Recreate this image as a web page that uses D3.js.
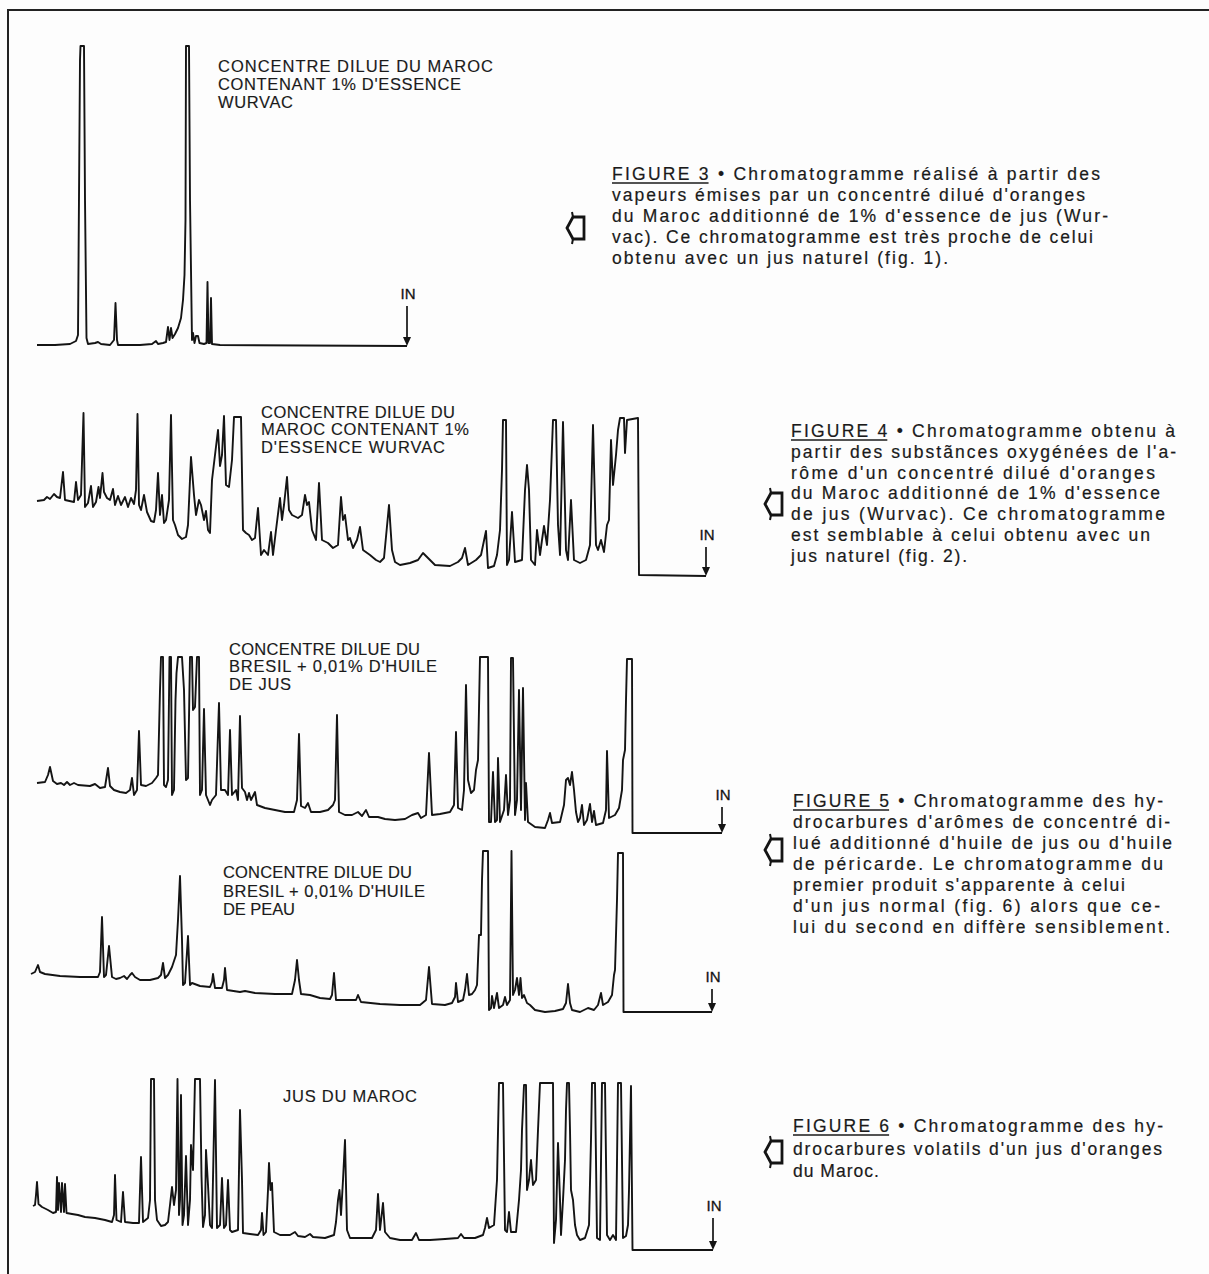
<!DOCTYPE html>
<html><head><meta charset="utf-8">
<script src="https://cdn.jsdelivr.net/npm/d3@7"></script>
<style>
body{margin:0;background:#fff}
svg{display:block}
</style>
</head><body>
<svg id="c" width="1209" height="1274"></svg>
<script>
// ---------- DATA (retention in chart units, detector response in chart units) ----------
const fig3Signal = [[0,1],[18,1],[33,2],[39,5],[41,11],[43,286],[43.5,300],[47,300],[48,146],[49.5,8],[51,2],[58,3],[61,4],[64,2],[73,1],[77,6],[78.5,43],[80,6],[81,1],[103,1],[115,2],[119,5],[121,2],[126,3],[129,4],[131,19],[132.5,6],[134,18],[135.5,8],[138,12],[141,18],[144,28],[146,46],[147.5,71],[148.5,126],[149,300],[152,300],[153,146],[155,6],[156,13],[157.5,3],[159,10],[161,10],[162.5,3],[167,2],[169.5,3],[170.5,64],[171.5,3],[173,3],[174,48],[175,2],[183,1],[370,0]];

const fig4Signal = [[0,75],[7,76],[10,79],[13,77],[17,82],[20,79],[23,78],[26,104],[28,76],[37,74],[39,94],[41,76],[44,81],[46.5,163],[48,69],[51,73],[54,90],[56,69],[59,74],[61.5,89],[63,78],[65.5,103],[67,84],[70,78],[73,76],[76,87],[78,71],[81,80],[84,71],[88,79],[91,69],[94,78],[97,72],[99,86],[100.5,162],[102,71],[104,66],[107,81],[110,64],[114,55],[117,54],[119,66],[121,103],[123,61],[125,81],[127,53],[129,56],[132,76],[134,161],[136,56],[138,51],[141,41],[145,37],[149,39],[151,51],[154,119],[157,81],[159,61],[162,76],[164,71],[167,56],[169,65],[171,46],[173,43],[175,96],[178,121],[181,146],[183,110],[185,121],[187,160],[189,91],[192,89],[195,116],[197,159],[204,159],[206,46],[209,43],[212,41],[215,36],[218,38],[221,68],[224,21],[227,26],[231,21],[234,44],[236,21],[239,46],[243,78],[245,56],[247,71],[250,99],[252,66],[255,61],[261,58],[265,61],[268,81],[270,71],[272,74],[275,46],[279,36],[282,93],[285,36],[291,33],[296,28],[301,31],[304,79],[306,56],[308,61],[311,36],[313,38],[316,28],[320,36],[323,49],[326,26],[333,21],[339,16],[343,14],[347,18],[352,71],[355,26],[358,14],[363,11],[373,13],[381,16],[386,23],[391,18],[398,11],[413,10],[421,14],[425,18],[428,28],[431,11],[439,16],[444,21],[449,45],[451,8],[457,10],[460,21],[463,46],[465,106],[466,156],[469,156],[470,11],[472,16],[475,64],[478,14],[485,16],[488,86],[490,111],[492,86],[494,16],[498,11],[500,46],[503,21],[505,36],[507,50],[510,31],[513,76],[516,156],[519,156],[521,51],[523,21],[526,154],[529,26],[531,16],[534,76],[537,16],[543,13],[549,16],[553,31],[556,151],[559,31],[561,26],[564,36],[567,24],[570,51],[572,56],[574,136],[576,91],[579,121],[581,146],[583,158],[587,158],[588,123],[590,156],[601,158],[602,1],[669,0]];

const fig5JusSignal = [[0,50],[8,51],[11,58],[13,66],[16,52],[20,49],[24,50],[27,48],[30,51],[33,48],[37,50],[41,48],[53,47],[58,49],[63,45],[68,46],[71,65],[73,47],[77,43],[83,41],[89,40],[93,43],[95,55],[97,38],[100,43],[102,102],[104,48],[109,47],[115,50],[119,55],[121,58],[123,143],[124,176],[126,176],[127,48],[129,46],[131,53],[132.5,176],[134,176],[135,38],[137,43],[138.5,133],[139.5,160],[141,176],[145,176],[147,143],[149,53],[151,55],[153,176],[155,176],[156,123],[158,126],[160,176],[162,176],[163,38],[165,43],[167,124],[169,38],[173,28],[175,33],[179,38],[182,130],[184,43],[188,43],[191,38],[193,103],[195,38],[199,43],[201,33],[203,117],[205,45],[208,41],[210,33],[212,40],[214,33],[218,41],[220,28],[228,25],[238,23],[248,21],[257,21],[260,33],[262,99],[264,27],[268,25],[271,30],[274,21],[283,21],[291,23],[296,28],[298,33],[300,118],[302,21],[308,18],[315,18],[321,21],[325,17],[329,23],[332,16],[341,16],[348,14],[358,13],[368,14],[375,18],[381,20],[384,15],[389,18],[392,80],[395,18],[403,19],[413,21],[417,28],[419,101],[421,25],[425,23],[427,43],[429,148],[431,53],[434,40],[437,43],[439,63],[441,73],[443,176],[451,176],[452,11],[454,11],[456,61],[458,11],[460,13],[461,75],[463,11],[467,23],[469,58],[471,18],[473,33],[474,175],[476,175],[478,18],[480,33],[482,143],[484,23],[486,145],[488,13],[489,50],[491,11],[498,6],[508,5],[511,13],[513,20],[515,10],[523,11],[527,28],[529,53],[531,55],[533,48],[535,61],[537,43],[539,21],[541,11],[543,15],[545,28],[547,8],[550,13],[553,29],[555,11],[557,22],[559,8],[566,10],[569,23],[570,82],[572,15],[578,18],[582,25],[583,31],[585,43],[586,73],[588,83],[589,133],[590,174],[595,174],[595.5,0],[685,0]];

const fig5PeauSignal = [[0,38],[4,40],[7,47],[9,40],[14,38],[29,36],[49,35],[67,35],[69,40],[71,95],[73,35],[75,37],[78,66],[81,35],[85,33],[89,34],[93,36],[96,33],[99,37],[101,39],[104,35],[109,32],[119,32],[127,34],[130,37],[132,49],[134,34],[137,37],[141,45],[145,57],[147,92],[149,136],[151,72],[152,27],[154,29],[157,76],[159,27],[161,29],[169,26],[179,25],[181,30],[182,38],[184,24],[191,24],[193,32],[194,44],[196,22],[209,20],[214,21],[224,19],[244,18],[261,18],[264,32],[266,52],[268,32],[270,18],[279,17],[289,14],[299,13],[301,17],[303,39],[305,12],[319,12],[325,12],[327,17],[330,10],[349,8],[369,7],[389,7],[395,12],[398,45],[401,8],[414,7],[421,9],[424,15],[425,29],[427,10],[432,12],[434,22],[436,38],[438,17],[441,18],[444,22],[446,27],[448,77],[450,77],[451,132],[452,161],[457,161],[458,2],[460,4],[461,16],[463,4],[466,19],[468,4],[472,7],[474,15],[476,7],[479,12],[480.5,161],[482,17],[484,22],[486,34],[488,17],[489.5,34],[491,14],[493,17],[496,9],[499,7],[504,2],[514,0],[524,1],[532,3],[535,9],[537,28],[539,9],[541,2],[549,0],[557,4],[563,2],[567,7],[570,19],[572,7],[577,10],[581,17],[583,37],[584,42],[585,77],[586,112],[587,159],[592,159],[592.5,0],[681,0]];

const fig6Signal = [[0,44],[2,45],[3,55],[4,68],[5.5,46],[9,43],[15,40],[20,37],[23,38],[24,73],[25,40],[26,67],[28,38],[29,67],[31,38],[32,66],[33.5,37],[39,36],[45,35],[52,33],[62,32],[72,30],[79,28],[81,35],[82,75],[83.5,30],[88,28],[90,58],[92,28],[100,27],[106,27],[108,93],[110,28],[115,32],[117,50],[118,171],[121,171],[122,50],[124,30],[128,24],[132,25],[135,28],[137,45],[139,63],[141,45],[143,60],[144.5,171],[146,35],[147,50],[148,155],[149.5,25],[151,35],[153,94],[155,25],[157,50],[158,105],[160,80],[162,171],[167,171],[168.5,74],[170,23],[172,35],[173,100],[175,65],[177,25],[179,22],[182,170],[184,22],[187,25],[189,72],[191,22],[193,25],[195,70],[197,20],[199,18],[205,20],[207,140],[209,70],[210,17],[217,16],[225,15],[228,20],[229,37],[230.5,15],[233,18],[235,60],[236,87],[237.5,60],[239,67],[241,18],[247,15],[257,15],[262,18],[265,14],[272,13],[277,16],[280,13],[292,12],[301,15],[303,28],[305,50],[306.5,60],[308,35],[310,70],[312,110],[314,20],[317,12],[327,12],[339,12],[343,20],[345,56],[347,20],[350,47],[352,18],[357,12],[367,10],[379,10],[383,17],[386,10],[397,10],[412,11],[425,12],[428,16],[431,12],[442,12],[450,15],[452,22],[454,32],[456,22],[461,25],[464,70],[466,167],[470,167],[472,20],[474,18],[476,38],[478,18],[483,18],[486,50],[488,80],[489,120],[491,165],[493,165],[494,60],[496,70],[498,90],[500,65],[503,70],[505,120],[507,167],[520,167],[521,7],[523,30],[525,107],[527,50],[528,15],[530,50],[532,90],[533,140],[534,167],[536,167],[537,120],[538,60],[540,50],[542,25],[544,15],[547,10],[552,12],[556,25],[558,110],[559,167],[562,167],[564,12],[567,10],[569,167],[572,167],[574,15],[577,10],[580,15],[583,10],[585,167],[588,167],[590,12],[593,14],[595,25],[596,60],[598,164],[599.5,0],[680,0]];

const traceLabels = [
  ["CONCENTRE DILUE DU MAROC","CONTENANT 1% D'ESSENCE","WURVAC"],
  ["CONCENTRE DILUE DU","MAROC CONTENANT 1%","D'ESSENCE WURVAC"],
  ["CONCENTRE DILUE DU","BRESIL + 0,01% D'HUILE","DE JUS"],
  ["CONCENTRE DILUE DU","BRESIL + 0,01% D'HUILE","DE PEAU"],
  ["JUS DU MAROC"]
];
const injectionLabel = "IN";

const captionFig3 = ["FIGURE 3 \u2022 Chromatogramme réalisé à partir des","vapeurs émises par un concentré dilué d'oranges","du Maroc additionné de 1% d'essence de jus (Wur-","vac). Ce chromatogramme est très proche de celui","obtenu avec un jus naturel  (fig. 1)."];
const captionFig4 = ["FIGURE 4 \u2022 Chromatogramme obtenu à","partir des substãnces oxygénées de l'a-","rôme d'un concentré dilué d'oranges","du Maroc additionné de 1% d'essence","de jus  (Wurvac).  Ce chromatogramme","est semblable à celui obtenu avec un","jus naturel  (fig. 2)."];
const captionFig5 = ["FIGURE 5 \u2022 Chromatogramme des hy-","drocarbures d'arômes de concentré di-","lué additionné d'huile de jus ou d'huile","de péricarde. Le chromatogramme du","premier produit s'apparente à celui","d'un jus normal  (fig. 6)  alors que ce-","lui du second en diffère sensiblement."];
const captionFig6 = ["FIGURE 6 \u2022 Chromatogramme des hy-","drocarbures volatils d'un jus d'oranges","du Maroc."];

// ---------- LAYOUT ----------
const svg = d3.select("#c");
svg.append("rect").attr("width",1209).attr("height",1274).attr("fill","#fdfdfd");
svg.append("path").attr("d","M8,1274 L8,10 L1209,10").attr("fill","none").attr("stroke","#222").attr("stroke-width",2);

const ink = "#141414";
const font = "Liberation Sans, Arial, sans-serif";
const panels = [
  {data:fig3Signal, x0:37, yRef:346, label:traceLabels[0], lx:218, ly:[72,90,108], lw:[275,243,75], inLen:40},
  {data:fig4Signal, x0:37, yRef:576, label:traceLabels[1], lx:261, ly:[418,435,453], lw:[194,208,184], inLen:29},
  {data:fig5JusSignal, x0:37, yRef:833, label:traceLabels[2], lx:229, ly:[655,672,690], lw:[191,208,62], inLen:26},
  {data:fig5PeauSignal, x0:31, yRef:1012, label:traceLabels[3], lx:223, ly:[878,897,915], lw:[189,202,72], inLen:23},
  {data:fig6Signal, x0:33, yRef:1250, label:traceLabels[4], lx:283, ly:[1102], lw:[134], inLen:32}
];

panels.forEach(p => {
  const tMax = d3.max(p.data, d=>d[0]);
  const sMax = d3.max(p.data, d=>d[1]);
  const x = d3.scaleLinear().domain([0,tMax]).range([p.x0, p.x0+tMax]);
  const y = d3.scaleLinear().domain([0,sMax]).range([p.yRef, p.yRef - sMax]);
  const line = d3.line().x(d=>x(d[0])).y(d=>y(d[1]));
  svg.append("path").datum(p.data).attr("d",line)
    .attr("fill","none").attr("stroke",ink).attr("stroke-width",1.9)
    .attr("stroke-linejoin","round");
  const xe = x(tMax), ye = y(0);
  svg.append("line").attr("x1",xe).attr("x2",xe).attr("y1",ye-p.inLen).attr("y2",ye-5)
    .attr("stroke",ink).attr("stroke-width",1.7);
  svg.append("path").attr("d",`M${xe-4},${ye-9} L${xe+4},${ye-9} L${xe},${ye} Z`).attr("fill",ink);
  svg.append("text").attr("x",xe+1).attr("y",ye-p.inLen-7).attr("text-anchor","middle")
    .attr("font-family",font).attr("font-size",15).attr("fill",ink)
    .attr("stroke",ink).attr("stroke-width",0.3)
    .text(injectionLabel);
  p.label.forEach((t,i)=>{
    svg.append("text").attr("x",p.lx).attr("y",p.ly[i])
      .attr("font-family",font).attr("font-size",16.5).attr("fill","#1a1a1a")
      .attr("stroke","#1a1a1a").attr("stroke-width",0.15)
      .attr("textLength",p.lw[i]).attr("lengthAdjust","spacing").text(t);
  });
});

// captions
const captions = [
  {lines:captionFig3, x:612, y0:180, dy:21, ends:[1100,1085,1108,1093,948], ax:576, ay:228},
  {lines:captionFig4, x:791, y0:437, dy:20.8, ends:[1175,1176,1155,1160,1165,1150,967], ax:774, ay:504},
  {lines:captionFig5, x:793, y0:807, dy:21, ends:[1163,1170,1172,1163,1125,1160,1170], ax:774, ay:850},
  {lines:captionFig6, x:793, y0:1132, dy:22.5, ends:[1163,1162,null], ax:774, ay:1152}
];
captions.forEach(c => {
  c.lines.forEach((t,i)=>{
    const el = svg.append("text").attr("x",c.x).attr("y",c.y0+i*c.dy)
      .attr("font-family",font).attr("font-size",17.5).attr("fill","#1a1a1a")
      .attr("stroke","#1a1a1a").attr("stroke-width",0.2)
      .attr("letter-spacing", c.ends[i] ? null : 1)
      .text(t);
    if(c.ends[i]) el.attr("textLength",c.ends[i]-c.x).attr("lengthAdjust","spacing");
    if(i===0){
      const n = el.node();
      const x1 = n.getStartPositionOfChar(0).x, x2 = n.getEndPositionOfChar(7).x;
      svg.append("line").attr("x1",x1).attr("x2",x2).attr("y1",c.y0+3).attr("y2",c.y0+3)
        .attr("stroke","#1a1a1a").attr("stroke-width",1.3);
    }
  });
  const g = svg.append("g").attr("transform",`translate(${c.ax},${c.ay})`);
  g.append("path").attr("d","M-9,0 L-3,-11 L8,-11 L8,11 L-3,11 Z")
    .attr("fill","none").attr("stroke",ink).attr("stroke-width",2.8).attr("stroke-linejoin","miter");
  g.append("path").attr("d","M-3,-11 L-4,-16 M-3,11 L-4,16").attr("stroke",ink).attr("stroke-width",2);
});
</script>
</body></html>
